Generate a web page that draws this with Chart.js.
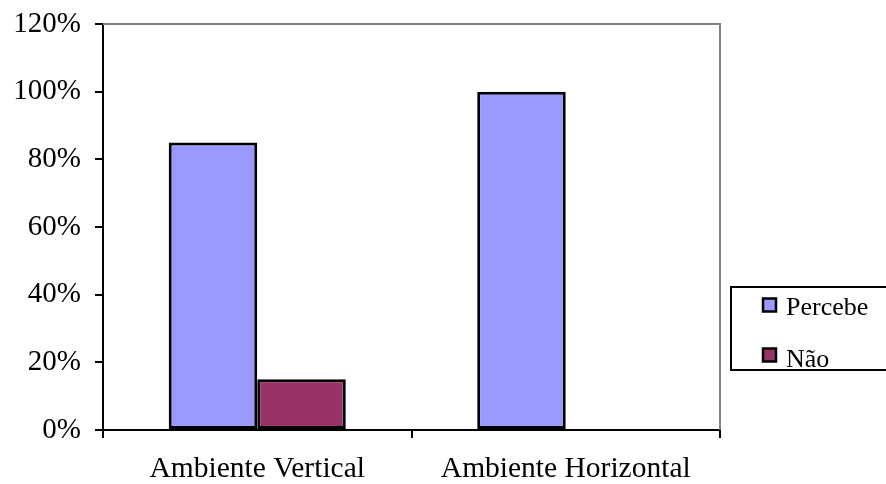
<!DOCTYPE html>
<html>
<head>
<meta charset="utf-8">
<script src="https://cdn.jsdelivr.net/npm/chart.js@4/dist/chart.umd.min.js"></script>
<style>
html,body{margin:0;padding:0;background:#fff;}
canvas{display:block;}
</style>
</head>
<body>
<canvas id="c" width="886" height="484"></canvas>
<script>
const categories = ["Ambiente Vertical", "Ambiente Horizontal"];
const seriesNames = ["Percebe", "Não"];
const percebeValues = [85, 100];
const naoValues = [15, 0];
const yTicks = [0, 20, 40, 60, 80, 100, 120];

const FONT = "'Liberation Serif', 'Times New Roman', serif";

const frameAndLegend = {
  id: 'frameAndLegend',
  afterDraw(chart) {
    const ctx = chart.ctx;
    const a = chart.chartArea;
    ctx.save();
    ctx.strokeStyle = '#808080';
    ctx.lineWidth = 2;
    ctx.beginPath();
    ctx.moveTo(a.left, a.top);
    ctx.lineTo(a.right, a.top);
    ctx.lineTo(a.right, a.bottom);
    ctx.stroke();
    ctx.strokeStyle = '#000';
    ctx.lineWidth = 2;
    ctx.strokeRect(731, 287, 200, 83);
    const ds = chart.data.datasets;
    const marks = [305, 355];
    const bases = [315, 367];
    ctx.font = "26px " + FONT;
    ctx.textBaseline = 'alphabetic';
    ctx.textAlign = 'left';
    ds.forEach((d, i) => {
      const y = marks[i];
      ctx.fillStyle = d.backgroundColor;
      ctx.fillRect(763, y - 6.5, 13, 13);
      ctx.lineWidth = 2.5;
      ctx.strokeStyle = '#000';
      ctx.strokeRect(763, y - 6.5, 13, 13);
      ctx.fillStyle = '#000';
      ctx.fillText(d.label, 786, bases[i]);
    });
    ctx.restore();
  }
};

new Chart(document.getElementById('c'), {
  type: 'bar',
  data: {
    labels: categories,
    datasets: [
      { label: seriesNames[0], data: percebeValues, backgroundColor: '#9999FF',
        borderColor: '#000', borderWidth: 3, borderSkipped: false },
      { label: seriesNames[1], data: naoValues, backgroundColor: '#993366',
        borderColor: '#000', borderWidth: 3, borderSkipped: false }
    ]
  },
  options: {
    responsive: false,
    animation: false,
    devicePixelRatio: 1,
    layout: { padding: { top: 24, right: 166, left: 0, bottom: 0 } },
    plugins: { legend: { display: false }, tooltip: { enabled: false } },
    datasets: { bar: { categoryPercentage: 0.574, barPercentage: 1.0 } },
    scales: {
      x: {
        offset: true,
        grid: { offset: true, drawOnChartArea: false, drawTicks: true, tickLength: 8, color: '#000', lineWidth: 2 },
        border: { color: '#000', width: 2 },
        ticks: { color: '#000', font: { family: FONT, size: 29.5 }, padding: 14, maxRotation: 0 },
        afterFit(s) { s.height = 54; s.paddingLeft = 0; s.paddingRight = 0; }
      },
      y: {
        min: 0, max: 120,
        afterBuildTicks(s) { s.ticks = yTicks.map(v => ({ value: v })); },
        grid: { drawOnChartArea: false, drawTicks: true, tickLength: 8, color: '#000', lineWidth: 2 },
        border: { color: '#000', width: 2 },
        ticks: { color: '#000', font: { family: FONT, size: 29 }, padding: 14,
          callback: v => v + '%' },
        afterFit(s) { s.width = 103; s.paddingTop = 0; s.paddingBottom = 0; }
      }
    }
  },
  plugins: [frameAndLegend]
});
</script>
</body>
</html>
